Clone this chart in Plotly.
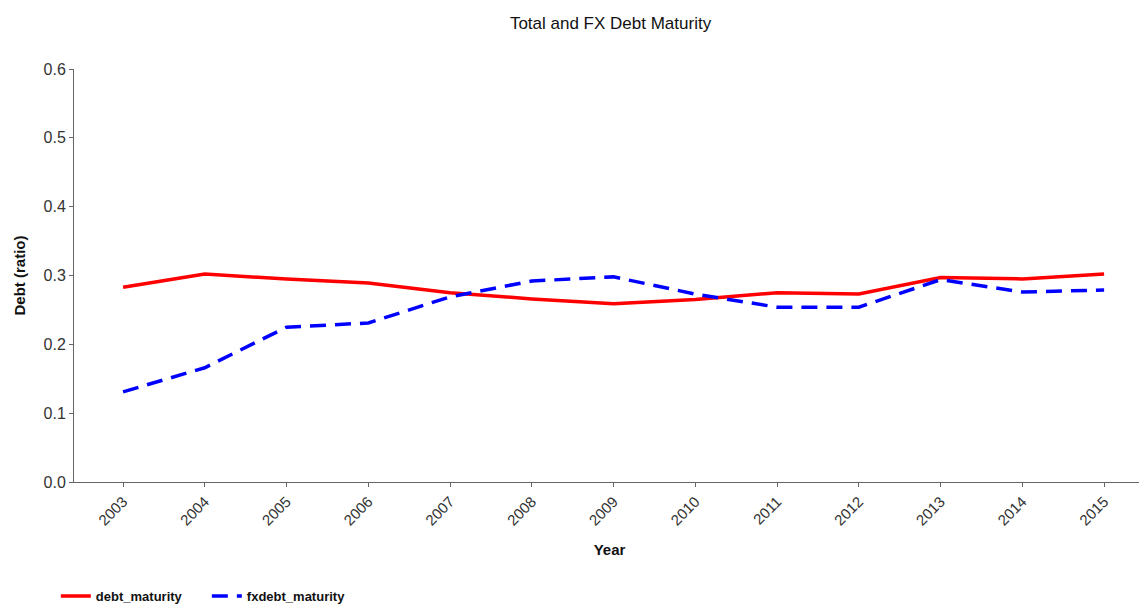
import plotly.graph_objects as go

years = [2003, 2004, 2005, 2006, 2007, 2008, 2009, 2010, 2011, 2012, 2013, 2014, 2015]
debt_maturity = [0.283, 0.302, 0.295, 0.289, 0.275, 0.266, 0.259, 0.265, 0.275, 0.273, 0.297, 0.295, 0.302]
fxdebt_maturity = [0.131, 0.166, 0.225, 0.231, 0.269, 0.292, 0.298, 0.273, 0.254, 0.254, 0.294, 0.276, 0.279]

FONT = "Liberation Sans, Arial, sans-serif"

fig = go.Figure()
fig.add_trace(go.Scatter(
    x=years, y=debt_maturity, name="debt_maturity", mode="lines",
    line={"color": "#ff0000", "width": 3.5},
))
fig.add_trace(go.Scatter(
    x=years, y=fxdebt_maturity, name="fxdebt_maturity", mode="lines",
    line={"color": "#0000ff", "width": 3.5, "dash": "16px,9px"},
))

# page body adds an 8px offset top/left, so the figure is sized to end at the window edge
fig.update_layout(
    width=1139,
    height=597,
    template="plotly_white",
    plot_bgcolor="white",
    paper_bgcolor="white",
    font={"family": FONT, "color": "#222"},
    title={"text": "Total and FX Debt Maturity", "x": 0.529, "xanchor": "center",
           "y": 0.975, "yanchor": "middle", "font": {"size": 17, "color": "#111"}},
    margin={"l": 66, "r": 2, "t": 61, "b": 123},
    showlegend=True,
    legend={"orientation": "h", "xref": "container", "x": 0.042, "xanchor": "left",
            "yref": "container", "y": 0.015, "yanchor": "middle",
            "font": {"size": 13, "family": FONT, "weight": "bold", "color": "#111"},
            "itemwidth": 30, "entrywidth": 106, "tracegroupgap": 0},
)
fig.update_xaxes(
    range=[2002.4, 2015.5],
    tickmode="array", tickvals=years, ticktext=[str(y) for y in years],
    tickangle=-45, tickfont={"size": 15, "color": "#333"},
    showgrid=False, zeroline=False,
    showline=True, linecolor="#666", linewidth=1,
    ticks="outside", ticklen=4, tickcolor="#666",
    title={"text": "<b>Year</b>", "font": {"size": 15, "color": "#111"}, "standoff": 16},
)
fig.update_yaxes(
    range=[0, 0.6], dtick=0.1, tickformat=".1f",
    tickfont={"size": 16, "color": "#333"},
    showgrid=False, zeroline=False,
    showline=True, linecolor="#666", linewidth=1,
    ticks="outside", ticklen=4, tickcolor="#666",
    title={"text": "<b>Debt (ratio)</b>", "font": {"size": 15, "color": "#111"}, "standoff": 14},
)

fig.write_html("out.html")
